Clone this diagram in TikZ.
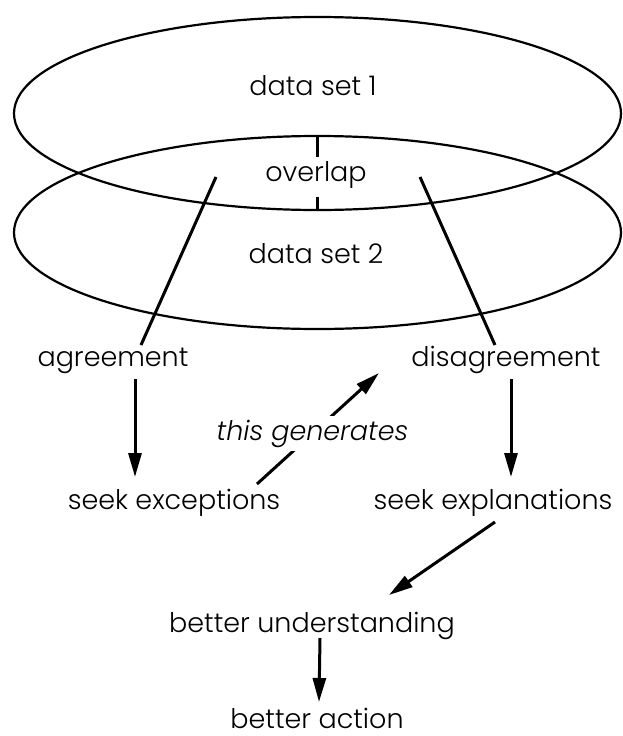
\documentclass[tikz,border=0pt]{standalone}
\usepackage{fontspec}
\setmainfont{Poppins Light}[ItalicFont=Poppins Light Italic]
\usepackage{tikz}
\usetikzlibrary{arrows.meta,shapes.geometric}

\begin{document}
\begin{tikzpicture}[x=1pt,y=-1pt,
    label/.style={anchor=base,inner sep=0pt,font=\fontsize{27}{30}\selectfont},
    dataset/.style={draw,ellipse,line width=2.2pt,minimum width=607pt,minimum height=193pt,inner sep=0pt},
    link/.style={line width=3pt},
    arr/.style={line width=3pt,-{Triangle[length=24pt,width=13pt]}}]
    \useasboundingbox (0,0) rectangle (622,736);

    % Data sets
    \node[dataset] (set1) at (317.5,113.5) {};
    \node[dataset] (set2) at (317.5,232.5) {};
    \node[label] (ds1) at (313,95) {data set 1};
    \node[label] (ds2) at (316,263) {data set 2};
    \node[label] (ovl) at (316,181) {overlap};
    \draw[link] (set2.north) -- ++(0,22);
    \draw[link] (set1.south) -- ++(0,-14);

    % Results
    \node[label] (agree) at (113,366) {agreement};
    \node[label] (disagree) at (506,366) {disagreement};
    \node[label] (seekexc) at (174,509) {seek exceptions};
    \node[label] (seekexp) at (493,509) {seek explanations};
    \node[label] (better) at (312,632) {better understanding};
    \node[label] (action) at (317,728) {better action};

    % Links from overlap
    \draw[link] ([shift={(-100,-4)}]ovl.base) -- ([shift={(28,-21)}]agree.base);
    \draw[link] ([shift={(104,-4)}]ovl.base) -- ([shift={(-11,-21)}]disagree.base);

    % Arrows
    \draw[arr] ([shift={(22,13)}]agree.base) -- ([shift={(-39,-32)}]seekexc.base);
    \draw[arr] ([shift={(5,13)}]disagree.base) -- ([shift={(18,-32)}]seekexp.base);
    \draw[arr] ([shift={(83,-25)}]seekexc.base) -- ([shift={(-127,7)}]disagree.base)
        node[pos=0.455,fill=white,inner sep=4pt,font=\fontsize{27}{30}\selectfont\itshape] (gen) {this generates};
    \draw[arr] ([shift={(2,13)}]seekexp.base) -- ([shift={(77,-37)}]better.base);
    \draw[arr] ([shift={(8,6)}]better.base) -- ([shift={(2,-26)}]action.base);
\end{tikzpicture}
\end{document}
